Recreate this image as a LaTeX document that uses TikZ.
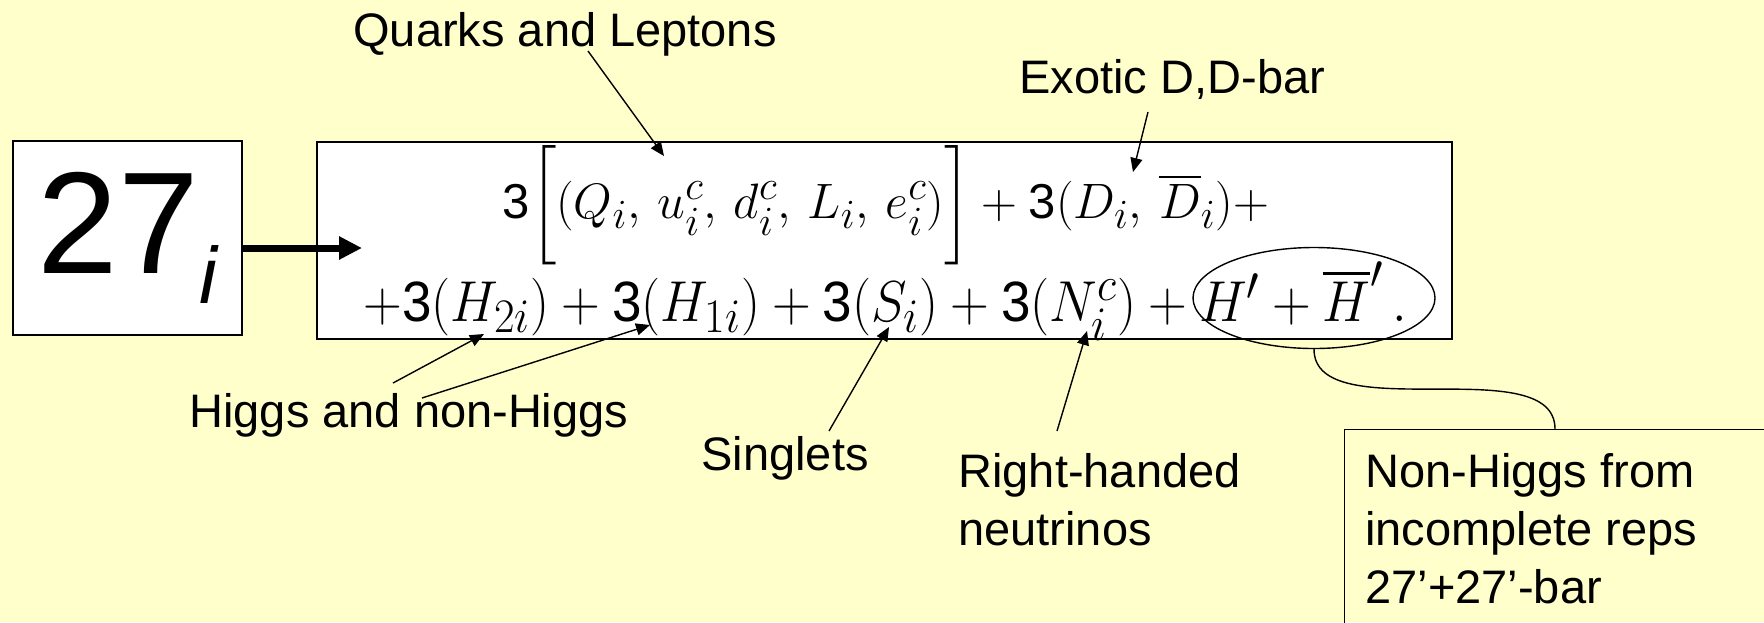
\RequirePackage{fix-cm}
\documentclass[tikz,border=0pt]{standalone}
\usepackage{amsmath}
\usepackage[no-math]{fontspec}
\setmainfont{Liberation Sans}
\usetikzlibrary{arrows.meta, positioning, calc, shapes.geometric}
\definecolor{slideyellow}{HTML}{FFFFCC}
\newcommand\sthree{\text{\fontsize{24.5}{30}\selectfont 3}}

\begin{document}
\begin{tikzpicture}[x=0.5pt, y=-0.5pt,
  lbl/.style={font=\fontsize{23.5}{29}\selectfont, inner sep=0pt,
    anchor=base west, align=left},
  boxw/.style={draw, line width=0.7pt, fill=white, inner sep=0pt},
  eqn/.style={font=\fontsize{24.88}{30}\selectfont, inner sep=0pt, anchor=base},
  ptr/.style={-{Triangle[length=7pt, width=6pt]}, line width=0.7pt},
  bigarr/.style={-{Triangle[length=11.5pt, width=11pt]}, line width=3.5pt}]
\fill[slideyellow] (0,0) rectangle (1764,622);
\useasboundingbox (0,0) rectangle (1764,622);
\node[boxw, minimum width=114.5pt, minimum height=97pt,
  font=\fontsize{72.5}{72.5}\selectfont] (rep) at (127.5,238)
  {27\raisebox{-15pt}{\fontsize{40}{40}\selectfont\itshape i}};
\node[boxw, minimum width=567.5pt, minimum height=98.5pt] (fbox) at (884.5,240.5) {};
\node[eqn] (eqa) at (886,218)
  {$\sthree\biggl[(Q_i,\, u_i^c,\, d_i^c,\, L_i,\, e_i^c)\biggr] + \sthree(D_i,\, \overline{D}_i)+$};
\node[eqn] (eqb) at (885.5,321)
  {\scalebox{1.08}[1.16]{$+\sthree(H_{2i}) + \sthree(H_{1i}) + \sthree(S_i) + \sthree(N_i^c) + H' + \overline{H}'\,.$}};
\node[draw, ellipse, line width=0.7pt, minimum width=121pt, minimum height=50.5pt,
  inner sep=0pt] (hh) at (1314,298) {};
\node[draw, line width=0.7pt, anchor=north west, minimum width=250pt,
  minimum height=120pt] (cbox) at (1344,429) {};
\node[lbl] (nh) at (1365,603) {Non-Higgs from\\incomplete reps\\27’+27’-bar};
\node[lbl] (qrk) at (353,46) {Quarks and Leptons};
\node[lbl] (exo) at (1019,93) {Exotic D,D-bar};
\node[lbl] (hig) at (189,427) {Higgs and non-Higgs};
\node[lbl] (sng) at (701,470) {Singlets};
\node[lbl] (rhn) at (958,545) {Right-handed\\neutrinos};
\coordinate (tin) at (362,248);
\coordinate (tq) at (664,156);
\coordinate (tx) at (1133,172);
\coordinate (th2) at (484,334);
\coordinate (th1) at (650,325);
\coordinate (ts) at (889,327);
\coordinate (tn) at (1087,331);
\draw[bigarr] ([shift={(0,10)}]rep.east) -- (tin);
\draw[ptr] ([shift={(235,5)}]qrk.base west) -- (tq);
\draw[ptr] ([shift={(129,19)}]exo.base west) -- (tx);
\draw[ptr] ([shift={(204,-44)}]hig.base west) -- (th2);
\draw[ptr] ([shift={(233,-29)}]hig.base west) -- (th1);
\draw[ptr] ([shift={(128,-39)}]sng.base west) -- (ts);
\draw[ptr] ([shift={(99,-114)}]rhn.base west) -- (tn);
\draw[line width=0.7pt] (hh.south) .. controls ($(hh.south)+(0,80)$)
  and ($(cbox.north west)+(211,-80)$) .. ([shift={(211,0)}]cbox.north west);
\end{tikzpicture}
\end{document}
